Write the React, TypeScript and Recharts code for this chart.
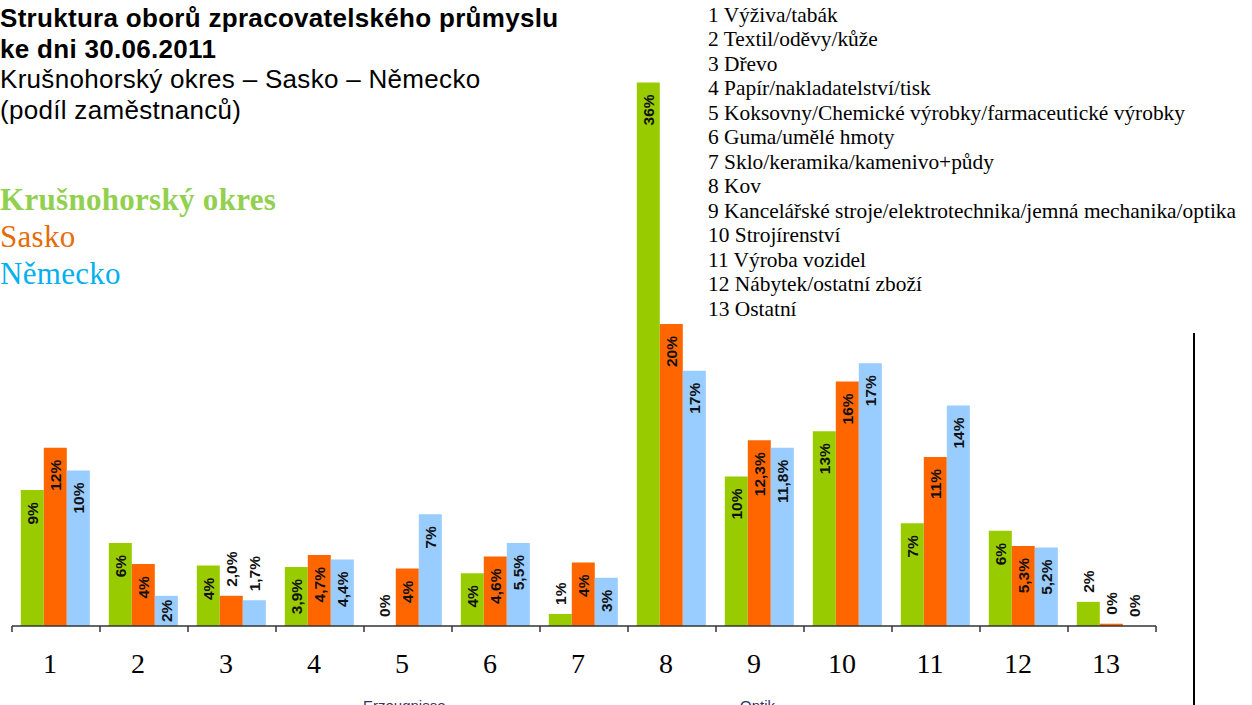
import React from "react";
import { BarChart, Bar, XAxis, YAxis, LabelList } from "recharts";

const categories = ["1", "2", "3", "4", "5", "6", "7", "8", "9", "10", "11", "12", "13"];

const krusnohory = [9.0, 5.5, 4.0, 3.9, 0, 3.5, 0.8, 36.0, 9.9, 12.9, 6.8, 6.3, 1.6];
const sasko = [11.8, 4.1, 2.0, 4.7, 3.8, 4.6, 4.2, 20.0, 12.3, 16.2, 11.2, 5.3, 0.15];
const nemecko = [10.3, 2.0, 1.7, 4.4, 7.4, 5.5, 3.2, 16.9, 11.8, 17.4, 14.6, 5.2, 0];

const krusnohoryLabels = ["9%", "6%", "4%", "3,9%", "0%", "4%", "1%", "36%", "10%", "13%", "7%", "6%", "2%"];
const saskoLabels = ["12%", "4%", "2,0%", "4,7%", "4%", "4,6%", "4%", "20%", "12,3%", "16%", "11%", "5,3%", "0%"];
const nemeckoLabels = ["10%", "2%", "1,7%", "4,4%", "7%", "5,5%", "3%", "17%", "11,8%", "17%", "14%", "5,2%", "0%"];

const sectors = [
  "1 Výživa/tabák",
  "2 Textil/oděvy/kůže",
  "3 Dřevo",
  "4 Papír/nakladatelství/tisk",
  "5 Koksovny/Chemické výrobky/farmaceutické výrobky",
  "6 Guma/umělé hmoty",
  "7 Sklo/keramika/kamenivo+půdy",
  "8 Kov",
  "9 Kancelářské stroje/elektrotechnika/jemná mechanika/optika",
  "10 Strojírenství",
  "11 Výroba vozidel",
  "12 Nábytek/ostatní zboží",
  "13 Ostatní",
];

const data = categories.map((c, i) => ({
  cat: c,
  kr: krusnohory[i],
  sa: sasko[i],
  de: nemecko[i],
  krL: krusnohoryLabels[i],
  saL: saskoLabels[i],
  deL: nemeckoLabels[i],
}));

const W = 1252;
const H = 705;
const M = { top: 22, right: 96, left: 12, bottom: 0 };
const AXIS_H = 79;
const BASE_Y = H - AXIS_H;
const CAT_W = (W - M.left - M.right) / categories.length;
const LABEL_FS = 15.5;
const SANS = "'Liberation Sans', Arial, sans-serif";
const SERIF = "'Liberation Serif', 'Times New Roman', serif";

// rough width of bold sans label text
const textLen = (t: string) => {
  let w = 0;
  for (const ch of t) {
    if (ch === "%") w += 0.889;
    else if (ch === ",") w += 0.278;
    else w += 0.556;
  }
  return w * LABEL_FS;
};

// zero bars still need a rectangle so their label gets drawn
const tinyForZero = (v: any) => (v === 0 ? 0.01 : 0);

const BarLabel = (props: any) => {
  const vb = props.viewBox || {};
  const x = props.x ?? vb.x;
  const width = props.width ?? vb.width;
  const height = Math.abs(props.height ?? vb.height ?? 0);
  const t = String(props.value);
  const len = textLen(t);
  const cx = x + width / 2;
  const top = BASE_Y - height;
  const inside = height >= len + 6;
  const py = inside ? top + Math.min(12, (height - len) / 2) : top - 9;
  return (
    <text
      x={cx}
      y={py}
      transform={`rotate(-90 ${cx} ${py})`}
      textAnchor={inside ? "end" : "start"}
      dominantBaseline="central"
      fontFamily={SANS}
      fontWeight="bold"
      fontSize={LABEL_FS}
      fill="#111"
    >
      {t}
    </text>
  );
};

const CatTick = (props: any) => {
  const { x, payload, index } = props;
  const left = x - CAT_W / 2;
  return (
    <g>
      <line x1={left} y1={BASE_Y} x2={left} y2={BASE_Y + 6} stroke="#333" strokeWidth={1.5} />
      {index === categories.length - 1 && (
        <line x1={x + CAT_W / 2} y1={BASE_Y} x2={x + CAT_W / 2} y2={BASE_Y + 6} stroke="#333" strokeWidth={1.5} />
      )}
      <text x={x - 6} y={BASE_Y + 47} textAnchor="middle" fontFamily={SERIF} fontSize={28} fill="#000">
        {payload.value}
      </text>
    </g>
  );
};

const App: React.FC = () => {
  return (
    <div
      style={{
        position: "fixed",
        left: 0,
        top: 0,
        width: W,
        height: H,
        overflow: "hidden",
        background: "#fff",
      }}
    >
      <div style={{ position: "absolute", left: 0, top: 0 }}>
        <BarChart width={W} height={H} data={data} margin={M} barCategoryGap="10%" barGap={0}>
          <XAxis
            dataKey="cat"
            height={AXIS_H}
            tickLine={false}
            axisLine={{ stroke: "#333", strokeWidth: 1.5 }}
            tick={<CatTick />}
            interval={0}
          />
          <YAxis hide domain={[0, 40]} />
          <Bar dataKey="kr" fill="#99cc00" minPointSize={tinyForZero} isAnimationActive={false}>
            <LabelList dataKey="krL" content={<BarLabel />} />
          </Bar>
          <Bar dataKey="sa" fill="#ff6600" minPointSize={tinyForZero} isAnimationActive={false}>
            <LabelList dataKey="saL" content={<BarLabel />} />
          </Bar>
          <Bar dataKey="de" fill="#99ccff" minPointSize={tinyForZero} isAnimationActive={false}>
            <LabelList dataKey="deL" content={<BarLabel />} />
          </Bar>
        </BarChart>
      </div>

      <div
        style={{
          position: "absolute",
          left: 0,
          top: 3,
          fontFamily: SANS,
          fontSize: 26,
          letterSpacing: 0.3,
          lineHeight: "30.5px",
          color: "#000",
          whiteSpace: "nowrap",
        }}
      >
        <div style={{ fontWeight: "bold" }}>Struktura oborů zpracovatelského průmyslu</div>
        <div style={{ fontWeight: "bold" }}>ke dni 30.06.2011</div>
        <div>Krušnohorský okres – Sasko – Německo</div>
        <div>(podíl zaměstnanců)</div>
      </div>

      <div
        style={{
          position: "absolute",
          left: 0,
          top: 181,
          fontFamily: SERIF,
          fontSize: 31,
          letterSpacing: 0.3,
          lineHeight: "37px",
          whiteSpace: "nowrap",
        }}
      >
        <div style={{ color: "#92d050", fontWeight: "bold" }}>Krušnohorský okres</div>
        <div style={{ color: "#e46c0a" }}>Sasko</div>
        <div style={{ color: "#00b0f0" }}>Německo</div>
      </div>

      <div
        style={{
          position: "absolute",
          left: 708,
          top: 2.5,
          fontFamily: SERIF,
          fontSize: 21.4,
          lineHeight: "24.5px",
          color: "#000",
          whiteSpace: "nowrap",
        }}
      >
        {sectors.map((s) => (
          <div key={s}>{s}</div>
        ))}
      </div>

      <div
        style={{
          position: "absolute",
          left: 1192.5,
          top: 333,
          width: 2,
          height: H - 333,
          background: "#000",
        }}
      />

      <div style={{ position: "absolute", left: 363, top: 697, fontFamily: SANS, fontSize: 15, color: "#333366" }}>
        Erzeugnisse
      </div>
      <div style={{ position: "absolute", left: 740, top: 697, fontFamily: SANS, fontSize: 15, color: "#333366" }}>
        Optik
      </div>
    </div>
  );
};

export default App;
